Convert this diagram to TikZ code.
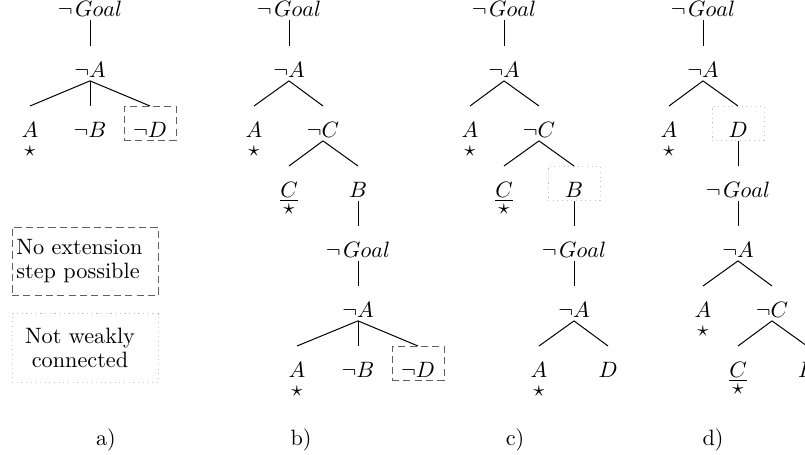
\documentclass[tikz,border=0pt]{standalone}
\begin{document}
\begin{tikzpicture}[x=0.45pt,y=-0.45pt,
  tn/.style={inner xsep=0pt, inner ysep=0pt, text height=13.95pt, text depth=1.35pt, anchor=north},
  rootn/.style={inner xsep=0pt, inner ysep=0pt, text height=7pt, text depth=1.35pt, anchor=base},
  boxn/.style={tn, minimum width=23.4pt},
  noext/.style={boxn, draw=black!62, dash pattern=on 3.2pt off 1.9pt},
  notweak/.style={boxn, draw=black!22, dash pattern=on 0.5pt off 1.6pt},
  starred/.style={label={[inner sep=0pt, label distance=2.2pt]below:$\star$}},
  ustarred/.style={label={[inner sep=0pt, label distance=1.3pt]below:$\star$}},
  edge/.style={draw=black, line width=0.45pt},
  legbox/.style={text width=61.7pt, inner xsep=2pt, inner ysep=0pt, minimum height=31pt,
    font=\fontsize{10}{10.8}\selectfont},
  panel/.style={anchor=base}
]
\useasboundingbox (0,0) rectangle (805,455);
\def\ngoal{$\neg\mskip2mu Goal$}

% ---------- panel a ----------
\node[rootn] (a0) at (90,17) {\ngoal};
\node[tn] (a1) at (90,46) {$\neg A$};
\node[tn, starred] (a2) at (30,106) {$A$};
\node[tn] (a3) at (90,106) {$\neg B$};
\node[noext] (a4) at (150,106) {$\neg D$};
\draw[edge] (a0.south) -- (a1.north);
\foreach \c in {a2,a3,a4} \draw[edge] (a1.south) -- (\c.north);

% legend
\node[legbox, draw=black!62, dash pattern=on 3.2pt off 1.9pt, align=left] (lg1) at (85,261.5)
  {No extension\\step possible};
\node[legbox, draw=black!22, dash pattern=on 0.5pt off 1.6pt, align=center] (lg2) at (85,348)
  {\hspace*{-4.5pt}Not weakly\\\hspace*{-4.5pt}connected};

% ---------- panel b ----------
\node[rootn] (b0) at (289,17) {\ngoal};
\node[tn] (b1) at (289,46) {$\neg A$};
\node[tn, starred] (b2) at (254,106) {$A$};
\node[tn] (b3) at (323,106) {$\neg C$};
\node[tn, ustarred] (b4) at (289,166) {$\underline{C}$};
\node[tn] (b5) at (358,166) {$B$};
\node[tn] (b6) at (358,226) {\ngoal};
\node[tn] (b7) at (358,286) {$\neg A$};
\node[tn, starred] (b8) at (297,346) {$A$};
\node[tn] (b9) at (358,346) {$\neg B$};
\node[noext] (b10) at (418,346) {$\neg D$};
\draw[edge] (b0.south) -- (b1.north);
\draw[edge] (b1.south) -- (b2.north);
\draw[edge] (b1.south) -- (b3.north);
\draw[edge] (b3.south) -- (b4.north);
\draw[edge] (b3.south) -- (b5.north);
\draw[edge] (b5.south) -- (b6.north);
\draw[edge] (b6.south) -- (b7.north);
\foreach \c in {b8,b9,b10} \draw[edge] (b7.south) -- (\c.north);

% ---------- panel c ----------
\node[rootn] (c0) at (504,17) {\ngoal};
\node[tn] (c1) at (504,46) {$\neg A$};
\node[tn, starred] (c2) at (470,106) {$A$};
\node[tn] (c3) at (539,106) {$\neg C$};
\node[tn, ustarred] (c4) at (504,166) {$\underline{C}$};
\node[notweak] (c5) at (574,166) {$B$};
\node[tn] (c6) at (574,226) {\ngoal};
\node[tn] (c7) at (574,286) {$\neg A$};
\node[tn, starred] (c8) at (539,346) {$A$};
\node[tn] (c9) at (608,346) {$D$};
\draw[edge] (c0.south) -- (c1.north);
\draw[edge] (c1.south) -- (c2.north);
\draw[edge] (c1.south) -- (c3.north);
\draw[edge] (c3.south) -- (c4.north);
\draw[edge] (c3.south) -- (c5.north);
\draw[edge] (c5.south) -- (c6.north);
\draw[edge] (c6.south) -- (c7.north);
\draw[edge] (c7.south) -- (c8.north);
\draw[edge] (c7.south) -- (c9.north);

% ---------- panel d ----------
\node[rootn] (d0) at (703,17) {\ngoal};
\node[tn] (d1) at (703,46) {$\neg A$};
\node[tn, starred] (d2) at (669,106) {$A$};
\node[notweak] (d3) at (738,106) {$D$};
\node[tn] (d4) at (738,166) {\ngoal};
\node[tn] (d5) at (738,226) {$\neg A$};
\node[tn, starred] (d6) at (703,286) {$A$};
\node[tn] (d7) at (772,286) {$\neg C$};
\node[tn, ustarred] (d8) at (738,346) {$\underline{C}$};
\node[tn] (d9) at (807,346) {$B$};
\draw[edge] (d0.south) -- (d1.north);
\draw[edge] (d1.south) -- (d2.north);
\draw[edge] (d1.south) -- (d3.north);
\draw[edge] (d3.south) -- (d4.north);
\draw[edge] (d4.south) -- (d5.north);
\draw[edge] (d5.south) -- (d6.north);
\draw[edge] (d5.south) -- (d7.north);
\draw[edge] (d7.south) -- (d8.north);
\draw[edge] (d7.south) -- (d9.north);

% ---------- panel labels ----------
\node[panel] (la) at (106,445) {a)};
\node[panel] (lb) at (301,445) {b)};
\node[panel] (lc) at (515,445) {c)};
\node[panel] (ld) at (713,445) {d)};
\end{tikzpicture}
\end{document}
